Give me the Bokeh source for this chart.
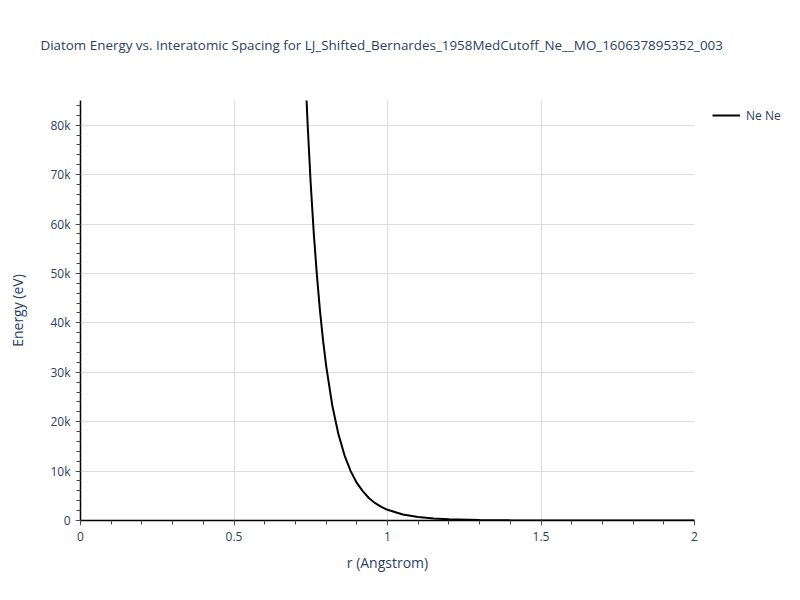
from bokeh.plotting import figure
from bokeh.layouts import row, column
from bokeh.models import Range1d, FixedTicker, Legend, LegendItem
from bokeh.embed import file_html
from bokeh.resources import INLINE

# Data
r_values = [0.73, 0.74, 0.75, 0.76, 0.77, 0.78, 0.79, 0.80, 0.82, 0.84, 0.86,
            0.88, 0.90, 0.92, 0.94, 0.96, 0.98, 1.00, 1.05, 1.10, 1.15, 1.20,
            1.30, 1.40, 1.50, 1.60, 1.80, 2.00]
energy_values = [94000, 80000, 68000, 58000, 49700, 42500, 36500, 31400, 23300,
                 17500, 13200, 10000, 7600, 5900, 4500, 3500, 2750, 2160, 1200,
                 690, 404, 242, 93, 38, 17, 8, 2, 0]
series_name = "Ne Ne"
x_ticks = [0, 0.5, 1, 1.5, 2]
x_tick_labels = {0: "0", 0.5: "0.5", 1: "1", 1.5: "1.5", 2: "2"}
y_ticks = [0, 10000, 20000, 30000, 40000, 50000, 60000, 70000, 80000]
y_tick_labels = {0: "0", 10000: "10k", 20000: "20k", 30000: "30k", 40000: "40k",
                 50000: "50k", 60000: "60k", 70000: "70k", 80000: "80k"}
x_minor = [round(i * 0.1, 1) for i in range(0, 21)]
y_minor = [i * 2000 for i in range(0, 43)]

title_text = "Diatom Energy vs. Interatomic Spacing for LJ_Shifted_Bernardes_1958MedCutoff_Ne__MO_160637895352_003"

FONT = "Open Sans"
TXT = "#2a3f5f"

# title strip (full width)
t = figure(width=784, height=60, output_backend="svg", toolbar_location=None,
           min_border_left=80, min_border_right=90, min_border_top=55, min_border_bottom=0,
           x_axis_type=None, y_axis_type=None,
           background_fill_color="white", border_fill_color="white")
t.outline_line_color = None
t.xgrid.visible = False
t.ygrid.visible = False
t.title.text = title_text
t.title.text_font = FONT
t.title.text_font_size = "13.4px"
t.title.text_font_style = "normal"
t.title.text_color = TXT
t.title.align = "left"
t.title.offset = -40
t.title.standoff = 3

# main plot
p = figure(width=700, height=524, output_backend="svg", toolbar_location=None,
           x_range=Range1d(0, 2), y_range=Range1d(0, 85000),
           min_border_left=80, min_border_right=6, min_border_top=40, min_border_bottom=64,
           background_fill_color="white", border_fill_color="white")
p.outline_line_color = None

line = p.line(r_values, energy_values, line_color="black", line_width=2)

p.xaxis.ticker = FixedTicker(ticks=x_ticks, minor_ticks=x_minor)
p.yaxis.ticker = FixedTicker(ticks=y_ticks, minor_ticks=y_minor)
p.xaxis.major_label_overrides = x_tick_labels
p.yaxis.major_label_overrides = y_tick_labels
for ax in (p.xaxis, p.yaxis):
    ax.axis_line_color = "black"
    ax.axis_line_width = 1.5
    ax.major_tick_line_color = "#777777"
    ax.major_tick_in = 0
    ax.major_tick_out = 5
    ax.minor_tick_line_color = "#444444"
    ax.minor_tick_in = 0
    ax.minor_tick_out = 4
    ax.major_label_text_font = FONT
    ax.major_label_text_font_size = "12px"
    ax.major_label_text_color = TXT
    ax.axis_label_text_font = FONT
    ax.axis_label_text_font_size = "14px"
    ax.axis_label_text_font_style = "normal"
    ax.axis_label_text_color = TXT
p.xaxis.axis_label = "r (Angstrom)"
p.yaxis.axis_label = "Energy (eV)"
p.xaxis.major_label_standoff = 6
p.yaxis.major_label_standoff = 5
p.xaxis.axis_label_standoff = 9
p.yaxis.axis_label_standoff = 20

p.xgrid.ticker = FixedTicker(ticks=x_ticks)
p.ygrid.ticker = FixedTicker(ticks=y_ticks)
p.xgrid.grid_line_color = "#dddddd"
p.ygrid.grid_line_color = "#dddddd"

# legend panel (narrow figure to the right of the plot)
q = figure(width=84, height=524, output_backend="svg", toolbar_location=None,
           min_border=0, x_axis_type=None, y_axis_type=None,
           background_fill_color="white", border_fill_color="white")
q.outline_line_color = None
q.xgrid.visible = False
q.ygrid.visible = False
key_line = q.line(x=[float("nan")], y=[float("nan")], line_color="black", line_width=2)
legend = Legend(items=[LegendItem(label=series_name, renderers=[key_line], index=0)],
                location=(12, 395), margin=0, padding=0,
                border_line_color=None, background_fill_alpha=0,
                glyph_width=28, glyph_height=20, label_standoff=6,
                label_text_font=FONT, label_text_font_size="12px",
                label_text_color=TXT)
q.add_layout(legend, "center")

layout = column(t, row(p, q, spacing=0), spacing=0)
open("out.html", "w").write(file_html(layout, INLINE))
